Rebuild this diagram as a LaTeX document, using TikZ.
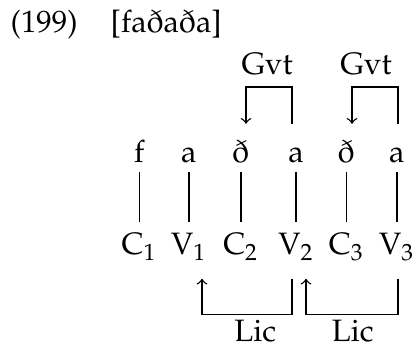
\documentclass[tikz,border=0pt]{standalone}
\usepackage[T1]{fontenc}
\usepackage{mathpazo}
\usepackage{amsmath}
\usepackage{tikz}

\tikzset{
  seg/.style={anchor=base, text height=8pt, text depth=0pt, inner sep=3pt},
  skel/.style={anchor=base, text height=8pt, text depth=0pt, inner xsep=3pt, inner ysep=3.4pt},
  lab/.style={anchor=base, inner sep=1pt},
}

\begin{document}
\begin{tikzpicture}[font=\fontsize{11pt}{13.5pt}\selectfont, line width=0.5pt]
\useasboundingbox (0,0) rectangle (5.175,4.3375);

\node[lab, anchor=base west] (exnum) at (0.09,3.925) {(199)};
\node[lab, anchor=base west] (form) at (1.34,3.925) {[fa\dh a\dh a]};

% melody
\node[seg] (f)   at (1.74,2.30) {f};
\node[seg] (a1)  at (2.36,2.30) {a};
\node[seg] (dh1) at (3.01,2.30) {\dh};
\node[seg] (a2)  at (3.70,2.30) {a};
\node[seg] (dh2) at (4.33,2.30) {\dh};
\node[seg] (a3)  at (4.96,2.30) {a};

% skeleton
\node[skel] (C1) at (1.74,1.15) {C$_1$};
\node[skel] (V1) at (2.36,1.15) {V$_1$};
\node[skel] (C2) at (3.01,1.15) {C$_2$};
\node[skel] (V2) at (3.70,1.15) {V$_2$};
\node[skel] (C3) at (4.33,1.15) {C$_3$};
\node[skel] (V3) at (4.96,1.15) {V$_3$};

\foreach \t/\b in {f/C1, a1/V1, dh1/C2, a2/V2, dh2/C3, a3/V3}{
	\draw (\t) -- (\b);
}

% government
\node[lab] (gvt1) at (3.34,3.41) {Gvt};
\node[lab] (gvt2) at (4.575,3.41) {Gvt};
\draw[->] ([xshift=-0.05cm,yshift=2.7pt]a2.north) -- ++(0,0.46) -| ([xshift=0.065cm,yshift=2.7pt]dh1.north);
\draw[->] ([xshift=0.015cm,yshift=2.7pt]a3.north) -- ++(0,0.46) -| ([xshift=0.07cm,yshift=2.7pt]dh2.north);

% licensing
\node[lab] (lic1) at (3.19,0.07) {Lic};
\node[lab] (lic2) at (4.41,0.07) {Lic};
\draw[->] ([xshift=-0.05cm,yshift=-4.8pt]V2.south) -- ++(0,-0.45) -| ([xshift=0.165cm,yshift=-4.8pt]V1.south);
\draw[->] ([xshift=0.015cm,yshift=-4.8pt]V3.south) -- ++(0,-0.45) -| ([xshift=0.125cm,yshift=-4.8pt]V2.south);

\end{tikzpicture}
\end{document}
